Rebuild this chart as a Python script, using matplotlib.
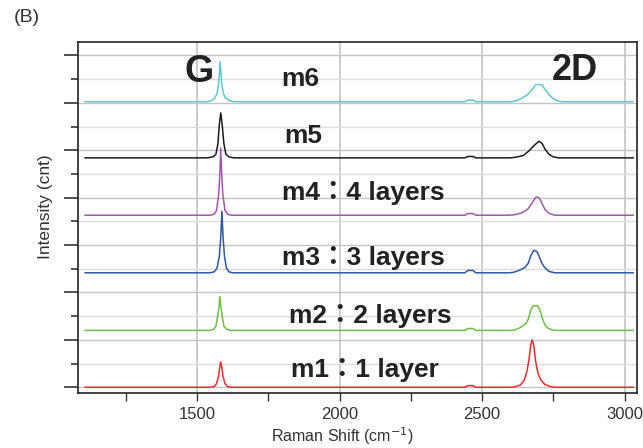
import matplotlib
matplotlib.use('Agg')
import matplotlib.pyplot as plt
from matplotlib.ticker import MultipleLocator

# spectra: (Raman shift cm-1, intensity above baseline in grid units)
m1 = [(1107, 0), (1545, 0), (1560, 0.03), (1568, 0.15), (1575, 0.45), (1580, 0.9), (1583, 1.07),
      (1586, 0.9), (1591, 0.45), (1598, 0.15), (1607, 0.03), (1620, 0),
      (2440, 0), (2450, 0.07), (2468, 0.07), (2478, 0),
      (2600, 0), (2615, 0.02), (2635, 0.1), (2648, 0.3), (2658, 0.7), (2665, 1.2), (2671, 1.8),
      (2676, 2.0), (2681, 1.8), (2688, 1.1), (2696, 0.6), (2706, 0.32), (2720, 0.12),
      (2740, 0.03), (2755, 0), (3030, 0)]
m2 = [(1107, 0), (1545, 0), (1558, 0.04), (1566, 0.17), (1572, 0.6), (1577, 1.0), (1580, 1.43),
      (1583, 1.0), (1588, 0.6), (1594, 0.17), (1605, 0.04), (1620, 0),
      (2440, 0), (2450, 0.08), (2468, 0.08), (2478, 0),
      (2600, 0), (2615, 0.02), (2635, 0.12), (2655, 0.3), (2663, 0.5), (2672, 0.9), (2680, 1.04),
      (2695, 1.04), (2703, 0.85), (2712, 0.5), (2720, 0.25), (2730, 0.1), (2745, 0.02),
      (2760, 0), (3030, 0)]
m3 = [(1107, 0), (1545, 0), (1560, 0.04), (1570, 0.2), (1578, 0.7), (1583, 1.5), (1587, 2.6),
      (1591, 1.5), (1596, 0.7), (1603, 0.2), (1612, 0.04), (1625, 0),
      (2440, 0), (2450, 0.1), (2468, 0.1), (2478, 0),
      (2595, 0), (2610, 0.02), (2630, 0.1), (2650, 0.22), (2662, 0.4), (2672, 0.75), (2682, 0.95),
      (2692, 0.9), (2700, 0.7), (2710, 0.4), (2720, 0.22), (2735, 0.06), (2755, 0), (3030, 0)]
m4 = [(1107, 0), (1545, 0), (1560, 0.04), (1568, 0.2), (1576, 0.9), (1580, 1.8), (1583, 2.84),
      (1586, 1.8), (1590, 0.9), (1598, 0.2), (1607, 0.04), (1620, 0),
      (2440, 0), (2450, 0.07), (2468, 0.07), (2478, 0),
      (2595, 0), (2615, 0.02), (2640, 0.1), (2660, 0.25), (2675, 0.5), (2688, 0.75), (2695, 0.77),
      (2702, 0.7), (2712, 0.45), (2722, 0.22), (2735, 0.08), (2755, 0), (3030, 0)]
m5 = [(1107, 0), (1535, 0), (1555, 0.04), (1566, 0.15), (1573, 0.6), (1578, 1.4), (1583, 1.9),
      (1588, 1.4), (1594, 0.6), (1601, 0.15), (1612, 0.04), (1630, 0),
      (2440, 0), (2450, 0.06), (2468, 0.06), (2478, 0),
      (2600, 0), (2620, 0.03), (2645, 0.1), (2665, 0.3), (2685, 0.55), (2700, 0.7), (2710, 0.62),
      (2722, 0.35), (2735, 0.15), (2750, 0.04), (2770, 0), (3030, 0)]
m6 = [(1107, 0), (1535, 0), (1550, 0.04), (1562, 0.15), (1570, 0.35), (1576, 0.8), (1581, 1.7),
      (1586, 0.8), (1592, 0.35), (1600, 0.15), (1615, 0.04), (1630, 0),
      (2440, 0), (2450, 0.07), (2468, 0.07), (2478, 0),
      (2600, 0), (2620, 0.04), (2640, 0.15), (2660, 0.3), (2675, 0.5), (2688, 0.72), (2710, 0.72),
      (2722, 0.5), (2735, 0.3), (2750, 0.12), (2770, 0.02), (2780, 0), (3030, 0)]

spectra = [m1, m2, m3, m4, m5, m6]
offsets = [0, 2.4, 4.83, 7.26, 9.68, 12.05]
colors = ['#ec2a2e', '#6dbf45', '#2f58a6', '#a256b0', '#1c1c1c', '#62c6cc']
labels = ['m1：1 layer', 'm2：2 layers', 'm3：3 layers', 'm4：4 layers', 'm5', 'm6']
label_x = [1830, 1823, 1798, 1798, 1805, 1795]
label_y = [0.73, 3.0, 5.45, 8.2, 10.6, 13.0]

plt.rcParams['font.family'] = ['Liberation Sans', 'Noto Sans CJK JP']

fig = plt.figure(figsize=(6.43, 4.48), dpi=100)
ax = fig.add_axes([0.1213, 0.1234, 0.8686, 0.7829])

for spec, off, c in zip(spectra, offsets, colors):
    xs = [p[0] for p in spec]
    ys = [p[1] + off for p in spec]
    ax.plot(xs, ys, color=c, lw=1.1, zorder=3)

for lab, lx, ly in zip(labels, label_x, label_y):
    ax.text(lx, ly, lab, fontsize=19, fontweight='bold', color='#222222',
            ha='left', va='center', zorder=4)

ax.text(1507, 13.3, 'G', fontsize=27, fontweight='bold', color='#222222', ha='center', va='center')
ax.text(2826, 13.35, '2D', fontsize=26, fontweight='bold', color='#222222', ha='center', va='center')

ax.set_xlim(1082, 3042)
ax.set_ylim(-0.23, 14.57)
ax.xaxis.set_major_locator(MultipleLocator(500))
ax.xaxis.set_minor_locator(MultipleLocator(250))
ax.yaxis.set_major_locator(MultipleLocator(2))
ax.yaxis.set_minor_locator(MultipleLocator(1))
ax.set_yticklabels([])
ax.tick_params(axis='x', which='both', direction='out', length=6, width=1, colors='#333333',
               labelsize=12, pad=4)
ax.tick_params(axis='y', which='major', direction='out', length=10, width=1.2, colors='#333333')
ax.tick_params(axis='y', which='minor', direction='out', length=5, width=1.2, colors='#333333')

ax.grid(axis='x', which='major', color='#c4c4c4', lw=1.2)
ax.grid(axis='y', which='major', color='#c4c4c4', lw=1.0)
ax.grid(axis='y', which='minor', color='#dcdcdc', lw=1.0)
ax.set_axisbelow(True)
for s in ax.spines.values():
    s.set_color('#222222')
    s.set_linewidth(1.2)

ax.set_xlabel('Raman Shift (cm$^{-1}$)', fontsize=11.5, color='#333333')
ax.xaxis.set_label_coords(0.473, -0.092)
ax.set_ylabel('Intensity (cnt)', fontsize=12.5, color='#333333')
ax.yaxis.set_label_coords(-0.045, 0.53)
fig.text(0.022, 0.962, '(B)', fontsize=14, color='#333333', va='center')

fig.savefig('out.png', dpi=100)
